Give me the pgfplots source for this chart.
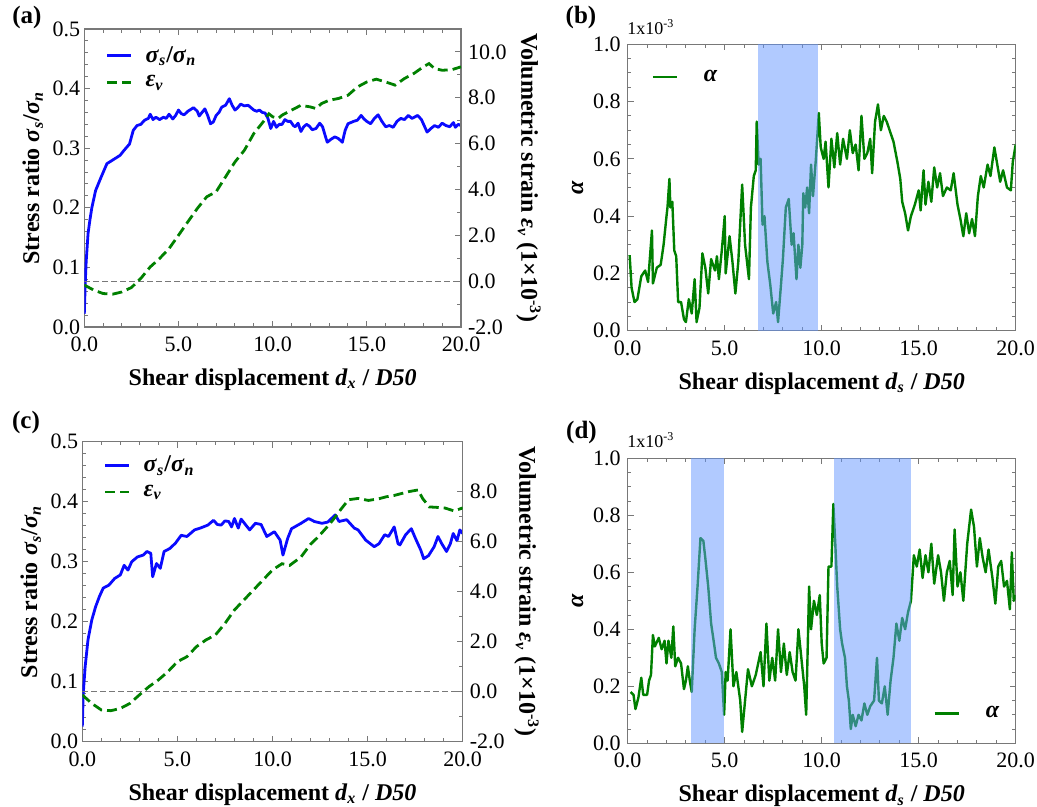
\documentclass[border=0pt]{standalone}
\usepackage{fontspec}
\setmainfont{Liberation Serif}
\usepackage{pgfplots}
\pgfplotsset{compat=1.18}
\definecolor{cblue}{RGB}{10,10,255}
\definecolor{cgreen}{RGB}{0,128,0}
\definecolor{bandblue}{RGB}{100,150,255}
\definecolor{framegray}{RGB}{120,120,120}

\pgfplotsset{
  panel/.style={
    scale only axis,
    xmin=0, xmax=20,
    xtick={0,5,10,15,20},
    minor x tick num=4,
    tick align=inside,
    axis line style={framegray, line width=0.7pt},
    tick style={framegray, line width=0.5pt},
    major tick length=3pt,
    minor tick length=1.8pt,
    tick label style={font=\fontsize{11}{12}\selectfont},
    xticklabel style={yshift=-1.5pt},
    label style={font=\bfseries\fontsize{12}{14}\selectfont},
    xlabel shift=1.5pt,
    /pgf/number format/fixed,
    /pgf/number format/fixed zerofill,
    /pgf/number format/precision=1,
    /pgf/number format/assume math mode=true,
    legend style={draw=none, fill=none, font=\bfseries\fontsize{12}{14}\selectfont, row sep=1pt},
    legend image code/.code={\draw[##1] (0pt,0pt) -- (12pt,0pt);},
    legend cell align=left,
  },
  stress/.style={panel, ymin=0, ymax=0.5, ytick={0,0.1,...,0.5}, minor y tick num=4, ytick pos=left,
    yticklabel style={xshift=1.5pt}, ylabel shift=-2pt,
    ylabel={Stress ratio \textit{σ}\textsubscript{\textit{s}}/\textit{σ}\textsubscript{\textit{n}}},
    xlabel={Shear displacement \textit{d}\textsubscript{\textit{x}} / \textit{D50}}},
  strain/.style={panel, axis y line*=right, axis x line=none, minor y tick num=1,
    ylabel={Volumetric strain \textit{ε}\textsubscript{\textit{v}} (1×10\textsuperscript{-3})},
    ylabel style={rotate=180}, ylabel shift=-2pt},
  alpha/.style={panel, ymin=0, ymax=1, ytick={0,0.2,...,1.0}, minor y tick num=3,
    ylabel={\textit{α}}, ylabel shift=-2pt,
    xlabel={Shear displacement \textit{d}\textsubscript{\textit{s}} / \textit{D50}}},
  sline/.style={cblue, line width=1.4pt, line join=round},
  eline/.style={cgreen, line width=1.4pt, dash pattern=on 5pt off 2.5pt},
  aline/.style={cgreen, line width=1.2pt, line join=round},
  band/.style={draw=none, fill=bandblue, fill opacity=0.5},
  zline/.style={framegray, line width=0.5pt, dash pattern=on 3pt off 1.5pt},
}

\begin{document}
\begin{tikzpicture}
\useasboundingbox (0pt,0pt) rectangle (518.5pt,403.5pt);

% (a)
\begin{axis}[stress, width=188.35pt, height=149pt, at={(42.15pt,240pt)}, anchor=south west,
  legend style={at={(rel axis cs:0.04,0.97)}, anchor=north west}]
\addplot[sline] coordinates {
(0,0.022) (0.05,0.073) (0.1,0.11) (0.2,0.157) (0.3,0.18) (0.4,0.2) (0.6,0.229) (0.9,0.252)
(1.2,0.274) (1.5,0.28) (1.9,0.288) (2.1,0.296) (2.4,0.307) (2.6,0.33) (2.8,0.338) (3.0,0.34)
(3.2,0.347) (3.4,0.35) (3.5,0.357) (3.65,0.348) (3.8,0.352) (4.0,0.348) (4.2,0.352) (4.35,0.35)
(4.5,0.357) (4.7,0.349) (4.85,0.355) (5.0,0.364) (5.15,0.358) (5.3,0.356) (5.5,0.362) (5.8,0.368)
(6.0,0.362) (6.1,0.354) (6.25,0.36) (6.4,0.366) (6.55,0.355) (6.7,0.341) (6.85,0.344) (7.0,0.355)
(7.15,0.36) (7.3,0.369) (7.5,0.372) (7.7,0.383) (7.85,0.372) (8.0,0.364) (8.15,0.368) (8.3,0.374)
(8.5,0.371) (8.7,0.372) (8.85,0.368) (9.0,0.364) (9.15,0.362) (9.3,0.364) (9.45,0.36) (9.6,0.359)
(9.75,0.35) (9.9,0.333) (10.05,0.345) (10.2,0.335) (10.35,0.34) (10.5,0.34) (10.65,0.348) (10.8,0.345)
(10.95,0.345) (11.1,0.338) (11.2,0.336) (11.35,0.342) (11.5,0.328) (11.65,0.336) (11.8,0.34) (11.95,0.337)
(12.1,0.331) (12.3,0.333) (12.5,0.342) (12.65,0.336) (12.8,0.32) (12.9,0.310) (13.1,0.315) (13.3,0.319)
(13.5,0.316) (13.7,0.310) (13.85,0.33) (14.0,0.341) (14.3,0.345) (14.5,0.347) (14.7,0.355) (14.85,0.349)
(15.0,0.345) (15.2,0.341) (15.4,0.35) (15.6,0.356) (15.8,0.345) (16.0,0.336) (16.2,0.338) (16.4,0.335)
(16.6,0.345) (16.8,0.35) (17.0,0.348) (17.2,0.355) (17.4,0.35) (17.7,0.355) (17.9,0.348) (18.0,0.341)
(18.2,0.327) (18.4,0.333) (18.6,0.338) (18.8,0.335) (19.0,0.342) (19.2,0.338) (19.4,0.336) (19.6,0.343)
(19.7,0.335) (19.85,0.34) (20,0.338)};
\addlegendentry{\hspace{4.5pt}\textit{σ}\textsubscript{\textit{s}}/\textit{σ}\textsubscript{\textit{n}}}
\addlegendimage{eline}
\addlegendentry{\hspace{4.5pt}\textit{ε}\textsubscript{\textit{v}}}
\end{axis}
\begin{axis}[strain, width=188.35pt, height=149pt, at={(42.15pt,240pt)}, anchor=south west,
  ymin=-2, ymax=11, ytick={-2,0,...,10}]
\addplot[zline] coordinates {(0,0) (20,0)};
\addplot[eline] coordinates {
(0,-0.17) (0.5,-0.39) (1.0,-0.54) (1.5,-0.57) (2.0,-0.47) (2.5,-0.28) (3.0,0.12) (3.5,0.62)
(4.0,0.99) (4.5,1.42) (5.0,2.0) (5.5,2.59) (6.0,3.17) (6.5,3.68) (7.0,3.9) (7.5,4.55) (8.0,5.2)
(8.5,5.71) (9.0,6.44) (9.5,6.95) (9.8,7.3) (10.0,7.17) (10.3,7.1) (10.5,7.24) (11.0,7.46)
(11.5,7.67) (12.0,7.6) (12.3,7.53) (12.6,7.75) (13.0,7.89) (13.5,7.97) (14.0,8.11) (14.5,8.47)
(15.0,8.69) (15.5,8.81) (16.0,8.69) (16.5,8.55) (17.0,8.84) (17.5,9.06) (18.0,9.35) (18.3,9.49)
(18.6,9.27) (19.0,9.2) (19.5,9.22) (20,9.35)};
\end{axis}

% (b)
\begin{axis}[alpha, width=194pt, height=143.2pt, at={(313.85pt,238.15pt)}, anchor=south west,
  legend style={at={(rel axis cs:0.045,0.94)}, anchor=north west}]
\addplot[aline] coordinates {
(0.1,0.264) (0.2,0.15) (0.35,0.10) (0.5,0.11) (0.7,0.19) (0.9,0.21) (1.05,0.17) (1.25,0.35)
(1.3,0.165) (1.5,0.22) (1.7,0.23) (1.85,0.3) (2.0,0.40) (2.05,0.43) (2.15,0.53) (2.2,0.43)
(2.3,0.45) (2.4,0.28) (2.5,0.26) (2.6,0.1) (2.75,0.1) (2.9,0.04) (3.0,0.03) (3.15,0.11)
(3.3,0.06) (3.45,0.18) (3.55,0.03) (3.7,0.08) (3.85,0.27) (4.0,0.22) (4.15,0.13) (4.3,0.25)
(4.5,0.21) (4.6,0.26) (4.7,0.18) (4.85,0.28) (5.0,0.4) (5.05,0.2) (5.25,0.33) (5.4,0.24)
(5.55,0.13) (5.7,0.24) (5.9,0.51) (6.05,0.3) (6.25,0.18) (6.35,0.43) (6.5,0.54) (6.6,0.56)
(6.65,0.73) (6.75,0.58) (6.85,0.6) (6.95,0.37) (7.05,0.40) (7.2,0.24) (7.35,0.16) (7.5,0.06)
(7.65,0.10) (7.75,0.03) (7.9,0.16) (8.0,0.25) (8.15,0.43) (8.3,0.46) (8.45,0.3) (8.55,0.34)
(8.7,0.18) (8.8,0.3) (8.9,0.22) (9.0,0.3) (9.05,0.48) (9.15,0.43) (9.25,0.5) (9.35,0.41)
(9.45,0.58) (9.55,0.47) (9.7,0.6) (9.85,0.76) (9.95,0.64) (10.1,0.6) (10.2,0.66) (10.35,0.5)
(10.5,0.67) (10.65,0.57) (10.8,0.69) (10.95,0.58) (11.1,0.67) (11.3,0.6) (11.45,0.7) (11.6,0.62)
(11.75,0.65) (11.9,0.56) (12.05,0.75) (12.2,0.6) (12.35,0.62) (12.5,0.67) (12.6,0.55) (12.75,0.73)
(12.9,0.79) (13.05,0.7) (13.2,0.75) (13.35,0.73) (13.5,0.7) (13.7,0.66) (13.9,0.59) (14.05,0.53)
(14.15,0.45) (14.3,0.41) (14.45,0.35) (14.6,0.4) (14.8,0.44) (15.0,0.49) (15.1,0.42) (15.25,0.56)
(15.35,0.44) (15.5,0.52) (15.65,0.45) (15.8,0.57) (15.95,0.5) (16.1,0.55) (16.25,0.47) (16.45,0.5)
(16.65,0.49) (16.8,0.55) (17.0,0.44) (17.15,0.39) (17.3,0.33) (17.45,0.41) (17.6,0.34) (17.75,0.39)
(17.9,0.33) (18.05,0.47) (18.2,0.54) (18.35,0.5) (18.55,0.58) (18.7,0.54) (18.9,0.64) (19.05,0.58)
(19.2,0.52) (19.35,0.56) (19.55,0.5) (19.75,0.49) (19.85,0.59) (20.0,0.65)};
\addlegendentry{\hspace{11pt}\textit{α}}
\addplot[band, forget plot] coordinates {(6.7,1) (9.8,1)} \closedcycle;
\end{axis}

% (c)
\begin{axis}[stress, width=190.2pt, height=150pt, at={(41.15pt,32.65pt)}, anchor=south west,
  legend style={at={(rel axis cs:0.04,0.98)}, anchor=north west}]
\addplot[sline] coordinates {
(0,0.025) (0.05,0.08) (0.15,0.125) (0.3,0.17) (0.5,0.203) (0.7,0.225) (0.9,0.242) (1.1,0.256)
(1.4,0.261) (1.7,0.272) (2.0,0.278) (2.2,0.294) (2.4,0.286) (2.6,0.3) (2.9,0.308) (3.2,0.311)
(3.4,0.317) (3.6,0.314) (3.7,0.275) (3.9,0.297) (4.1,0.289) (4.3,0.317) (4.6,0.322) (4.9,0.331)
(5.2,0.344) (5.5,0.342) (5.9,0.353) (6.2,0.356) (6.6,0.361) (6.9,0.369) (7.1,0.362) (7.3,0.361)
(7.5,0.368) (7.7,0.367) (7.85,0.358) (8.0,0.372) (8.2,0.356) (8.35,0.371) (8.5,0.365) (8.8,0.353)
(9.1,0.364) (9.4,0.362) (9.7,0.342) (10.1,0.35) (10.4,0.336) (10.55,0.311) (10.8,0.339) (11.0,0.355)
(11.5,0.364) (11.9,0.372) (12.2,0.367) (12.6,0.364) (12.9,0.366) (13.3,0.378) (13.5,0.367)
(13.9,0.37) (14.3,0.356) (14.5,0.353) (14.9,0.336) (15.35,0.325) (15.6,0.33) (15.9,0.345)
(16.1,0.342) (16.4,0.358) (16.6,0.33) (16.7,0.328) (17.0,0.345) (17.3,0.355) (17.5,0.34)
(17.8,0.319) (17.95,0.305) (18.2,0.31) (18.5,0.325) (18.7,0.342) (18.9,0.33) (19.15,0.317)
(19.35,0.33) (19.5,0.347) (19.7,0.335) (19.85,0.353) (20,0.347)};
\addlegendentry{\hspace{4.5pt}\textit{σ}\textsubscript{\textit{s}}/\textit{σ}\textsubscript{\textit{n}}}
\addlegendimage{eline}
\addlegendentry{\hspace{4.5pt}\textit{ε}\textsubscript{\textit{v}}}
\end{axis}
\begin{axis}[strain, width=190.2pt, height=150pt, at={(41.15pt,32.65pt)}, anchor=south west,
  ymin=-2, ymax=10, ytick={-2,0,...,8}]
\addplot[zline] coordinates {(0,0) (20,0)};
\addplot[eline] coordinates {
(0,-0.13) (0.5,-0.47) (1.0,-0.73) (1.5,-0.76) (2.0,-0.67) (2.5,-0.47) (3.0,-0.13) (3.5,0.2)
(4.0,0.47) (4.5,0.8) (5.0,1.2) (5.5,1.4) (6.0,1.8) (6.5,2.07) (7.0,2.27) (7.5,2.73) (8.0,3.27)
(8.5,3.67) (9.0,4.07) (9.5,4.47) (10.0,4.87) (10.5,5.12) (10.9,5.05) (11.5,5.39) (12.0,5.9)
(12.4,6.19) (13.0,6.7) (13.3,6.99) (13.6,7.3) (14.0,7.68) (14.5,7.73) (15.05,7.65) (15.6,7.72)
(16.0,7.8) (16.4,7.85) (17.15,8.0) (17.65,8.07) (17.9,7.72) (18.25,7.39) (18.7,7.37) (19.05,7.35)
(19.55,7.23) (20,7.35)};
\end{axis}

% (d)
\begin{axis}[alpha, width=194pt, height=142.5pt, at={(313.85pt,31.85pt)}, anchor=south west,
  legend style={at={(rel axis cs:0.985,0.05)}, anchor=south east}]
\addplot[aline] coordinates {
(0.15,0.18) (0.3,0.17) (0.4,0.12) (0.55,0.16) (0.7,0.23) (0.8,0.17) (1.0,0.17) (1.1,0.22)
(1.2,0.24) (1.3,0.38) (1.4,0.34) (1.6,0.37) (1.75,0.33) (1.9,0.36) (2.0,0.28) (2.1,0.36)
(2.25,0.3) (2.35,0.41) (2.45,0.27) (2.6,0.3) (2.75,0.28) (2.9,0.19) (3.0,0.22) (3.1,0.27)
(3.2,0.22) (3.3,0.18) (3.45,0.4) (3.6,0.55) (3.75,0.72) (3.9,0.71) (4.0,0.65) (4.15,0.55)
(4.3,0.42) (4.45,0.35) (4.55,0.3) (4.7,0.28) (4.85,0.25) (4.97,0.1) (5.05,0.25) (5.15,0.22)
(5.3,0.4) (5.45,0.2) (5.6,0.25) (5.8,0.15) (5.9,0.04) (6.05,0.15) (6.2,0.26) (6.4,0.2)
(6.6,0.24) (6.85,0.32) (7.0,0.2) (7.15,0.42) (7.3,0.22) (7.45,0.3) (7.6,0.22) (7.75,0.4)
(7.9,0.25) (8.05,0.35) (8.2,0.24) (8.35,0.32) (8.5,0.25) (8.65,0.22) (8.8,0.4) (8.95,0.3)
(9.1,0.2) (9.2,0.1) (9.35,0.55) (9.45,0.4) (9.6,0.5) (9.75,0.45) (9.9,0.52) (10.0,0.35)
(10.1,0.28) (10.25,0.3) (10.35,0.62) (10.5,0.62) (10.6,0.84) (10.7,0.7) (10.8,0.55) (10.95,0.4)
(11.05,0.35) (11.2,0.3) (11.3,0.2) (11.4,0.15) (11.5,0.05) (11.6,0.1) (11.75,0.06) (11.9,0.1)
(12.05,0.08) (12.2,0.14) (12.35,0.1) (12.5,0.13) (12.7,0.15) (12.85,0.3) (12.95,0.15) (13.1,0.14)
(13.25,0.2) (13.4,0.1) (13.55,0.22) (13.7,0.3) (13.85,0.42) (14.0,0.36) (14.15,0.44) (14.3,0.4)
(14.45,0.46) (14.6,0.5) (14.75,0.66) (14.9,0.62) (15.05,0.68) (15.2,0.58) (15.35,0.66) (15.5,0.6)
(15.65,0.7) (15.8,0.56) (16.0,0.66) (16.15,0.6) (16.3,0.5) (16.45,0.6) (16.6,0.64) (16.75,0.52)
(16.85,0.75) (17.0,0.55) (17.15,0.6) (17.3,0.5) (17.5,0.7) (17.7,0.82) (17.85,0.76) (18.0,0.62)
(18.15,0.72) (18.3,0.65) (18.45,0.6) (18.6,0.68) (18.8,0.58) (18.95,0.49) (19.1,0.62) (19.25,0.64)
(19.4,0.55) (19.55,0.57) (19.7,0.47) (19.8,0.67) (19.9,0.5) (20.0,0.52)};
\addlegendentry{\hspace{11pt}\textit{α}}
\addplot[band, forget plot] coordinates {(3.25,1) (4.97,1)} \closedcycle;
\addplot[band, forget plot] coordinates {(10.65,1) (14.6,1)} \closedcycle;
\end{axis}

% panel letters and scale notes
\node[font=\bfseries\fontsize{12.5}{14}\selectfont] at (13.5pt,394.5pt) {(a)};
\node[font=\bfseries\fontsize{12.5}{14}\selectfont] at (290.5pt,394.5pt) {(b)};
\node[font=\bfseries\fontsize{12.5}{14}\selectfont] at (13pt,192.5pt) {(c)};
\node[font=\bfseries\fontsize{12.5}{14}\selectfont] at (290.75pt,187.5pt) {(d)};
\node[anchor=base west, inner sep=0pt, font=\fontsize{9}{10}\selectfont] at (313.5pt,386pt) {1x10\textsuperscript{-3}};
\node[anchor=base west, inner sep=0pt, font=\fontsize{9}{10}\selectfont] at (313.5pt,179.5pt) {1x10\textsuperscript{-3}};
\end{tikzpicture}
\end{document}
